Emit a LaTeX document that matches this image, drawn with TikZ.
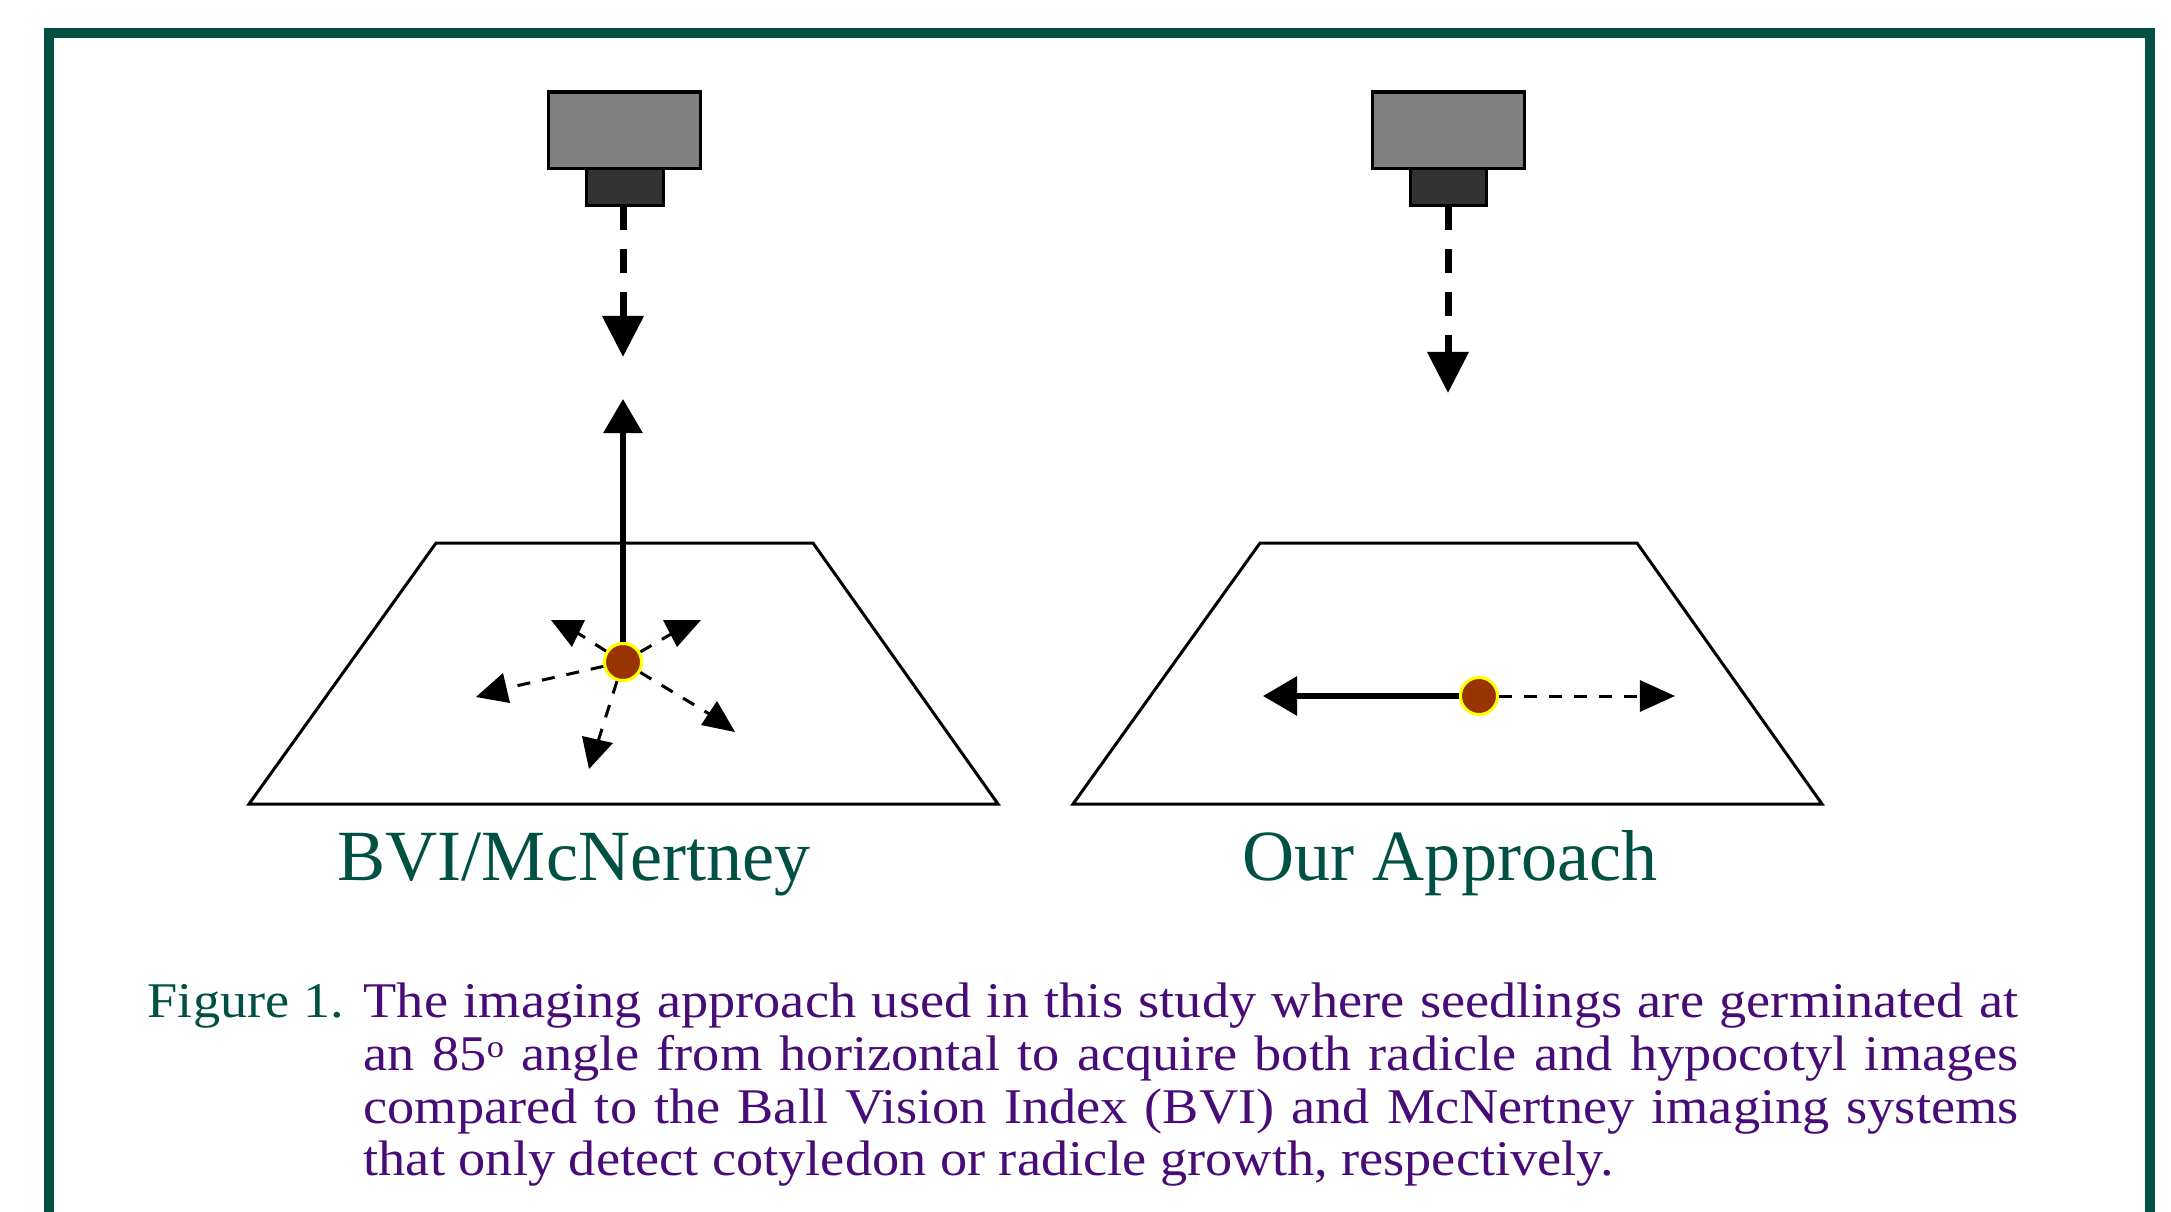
\documentclass[tikz,border=0pt]{standalone}
\usepackage{fontspec}
\setmainfont{Liberation Serif}
\newfontfamily\capfont[FakeStretch=1.088]{Liberation Serif}
\usetikzlibrary{arrows.meta}
\definecolor{frameGreen}{RGB}{0,80,68}
\definecolor{capPurple}{RGB}{72,12,120}
\definecolor{camLight}{RGB}{128,128,128}
\definecolor{camDark}{RGB}{51,51,51}
\definecolor{seedBrown}{RGB}{153,51,0}
\definecolor{seedRim}{RGB}{255,255,0}
\tikzset{
  camtop/.style={fill=camLight,draw=black,line width=0.03cm},
  cambot/.style={fill=camDark,draw=black,line width=0.03cm},
  tray/.style={draw=black,line width=0.03cm,line join=miter},
  seed/.style={circle,fill=seedBrown,draw=seedRim,line width=0.03cm,minimum size=0.37cm,inner sep=0pt},
  camray/.style={line width=0.07cm,dash pattern=on 0.24cm off 0.19cm,-{Triangle[width=0.40cm,length=0.41cm]}},
  solidray/.style={line width=0.06cm,-{Triangle[width=0.38cm,length=0.34cm]}},
  thinray/.style={line width=0.03cm,dash pattern=on 0.13cm off 0.12cm},
  thinrayarrow/.style={thinray,-{Triangle[width=0.31cm,length=0.35cm]}},
  tipfill/.style={fill=black},
  label/.style={text=frameGreen,font=\fontsize{20.5pt}{24pt}\selectfont,anchor=base,inner sep=0pt},
  captext/.style={text=capPurple,font=\capfont\fontsize{14.2pt}{15pt}\selectfont,anchor=base west,inner sep=0pt},
  capfig/.style={text=frameGreen,font=\capfont\fontsize{14.2pt}{15pt}\selectfont,anchor=base west,inner sep=0pt}
}
\begin{document}
\begin{tikzpicture}[x=0.01cm,y=-0.01cm]
\useasboundingbox (0,0) rectangle (2171,1212);
\clip (0,0) rectangle (2171,1212);
\fill[white] (0,0) rectangle (2171,1212);
% frame
\draw[frameGreen,line width=0.10cm] (49,1240) -- (49,33) -- (2150,33) -- (2150,1240);

% ---------- left panel ----------
\draw[tray] (436,543) -- (813,543) -- (998,804) -- (249,804) -- cycle;
\draw[camtop] (548,92) rectangle (700,168);
\draw[cambot] (586,168) rectangle (663,205);
\coordinate (camL) at (623,206);
\coordinate (camLtip) at (623,357);
\draw[camray] (camL) -- (camLtip);

\node[seed] (seedL) at (623,662) {};
\coordinate (upLtip) at (623,399);
% small dashed rays
\coordinate (rA) at (573,630);
\coordinate (rB) at (678,630);
\coordinate (rC) at (498,690);
\coordinate (rD) at (596,748);
\coordinate (rE) at (716,718);
\foreach \t in {rA,rB,rC,rD,rE} \draw[thinray] (seedL) -- (\t);
\fill[tipfill] (551,620) -- (585,620) -- (572,647) -- cycle;
\fill[tipfill] (663,620) -- (701,620) -- (677,647) -- cycle;
\fill[tipfill] (476,697) -- (503,673) -- (510,703) -- cycle;
\fill[tipfill] (582,736) -- (613,743) -- (589,769) -- cycle;
\fill[tipfill] (717,701) -- (735,732) -- (701,725) -- cycle;
\draw[solidray] (seedL) -- (upLtip);
\node[seed] (seedLtop) at (623,662) {};

\node[label] (lblL) at (574,880) {BVI/McNertney};

% ---------- right panel ----------
\draw[tray] (1260,543) -- (1637,543) -- (1822,804) -- (1073,804) -- cycle;
\draw[camtop] (1372,92) rectangle (1524,168);
\draw[cambot] (1410,168) rectangle (1486,205);
\coordinate (camR) at (1448,206);
\coordinate (camRtip) at (1448,393);
\draw[camray] (camR) -- (camRtip);

\node[seed] (seedR) at (1479,696) {};
\coordinate (leftRtip) at (1263,696);
\coordinate (rightRtip) at (1675,696);
\draw[solidray] (seedR) -- (leftRtip);
\draw[thinrayarrow] (seedR) -- (rightRtip);

\node[label] (lblR) at (1450,880) {Our Approach};

% ---------- caption ----------
\node[capfig] (figno) at (147,1017) {Figure 1.};
\node[captext] (c1) at (363,1017) {\makebox[16.54cm][s]{The imaging approach used in this study where seedlings are germinated at}};
\node[captext] (c2) at (363,1070) {\makebox[16.54cm][s]{an 85\raisebox{0.55ex}{\fontsize{9pt}{9pt}\selectfont o} angle from horizontal to acquire both radicle and hypocotyl images}};
\node[captext] (c3) at (363,1123) {\makebox[16.54cm][s]{compared to the Ball Vision Index (BVI) and McNertney imaging systems}};
\node[captext] (c4) at (363,1175) {that only detect cotyledon or radicle growth, respectively.};
\end{tikzpicture}
\end{document}
